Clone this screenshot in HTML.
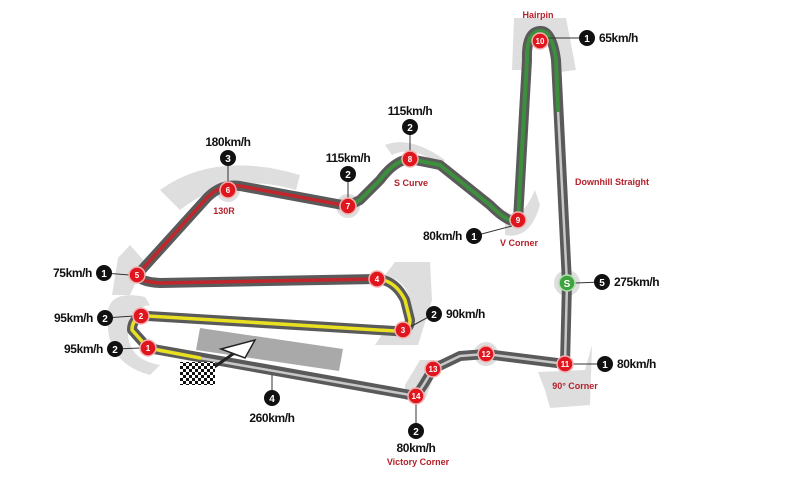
<!DOCTYPE html>
<html><head><meta charset="utf-8"><style>
html,body{margin:0;padding:0;background:#fff;}
svg{display:block;}
text{font-family:"Liberation Sans",sans-serif;font-weight:bold;}
.sp{font-size:12px;fill:#111;letter-spacing:-0.4px;}
.rl{font-size:9px;fill:#b3212a;}
.nw{font-size:8px;fill:#fff;text-anchor:middle;}
.bw{font-size:10px;fill:#fff;text-anchor:middle;}
</style></head><body>
<svg width="800" height="477" viewBox="0 0 800 477">
<g fill="#dedede">
<polygon points="514,18 566,18 576,70 560,72 552,36 528,36 522,70 512,70"/>
<path d="M160,190 Q215,150 300,175 L296,190 Q230,170 180,210 Z"/>
<path d="M118,258 L130,245 L145,262 L130,295 L112,295 Z"/>
<path d="M108,310 Q112,290 145,297 L150,305 Q128,308 128,335 Q130,360 160,365 L150,375 Q112,365 108,330 Z"/>
<path d="M395,262 L430,262 L432,300 L418,345 L375,345 L385,330 Q412,325 410,300 Q405,280 385,275 Z"/>
<path d="M385,145 Q410,135 445,160 L440,165 Q412,145 392,155 Z"/>
<path d="M505,210 Q520,225 535,190 L540,205 Q530,240 505,235 Z"/>
<path d="M538,372 L585,370 L592,345 L590,405 L550,408 L545,390 Z"/>
<path d="M405,385 L420,360 L440,360 L425,400 L405,400 Z"/>
<circle cx="567" cy="283" r="13"/>
<circle cx="486" cy="354" r="12"/>
<circle cx="348" cy="206" r="12"/>
<circle cx="228" cy="190" r="12"/>
</g>
<polygon points="200,328 343,349 339,371 196,350" fill="#a9a9a9"/>
<g fill="none" stroke-linecap="round" stroke-linejoin="round">
<path d="M148,348 L416,396 L424,384 L433,369 L460,356 L486,354 L565,364 L567,283 L556,60 Q552,30 540,31 Q526,32 527,60 L518,220 Q510,225 490,205 L440,165 L410,159 Q395,160 380,180 L360,200 L348,206 L240,186 Q220,183 205,200 L137,275 Q140,282 160,283 L377,279 Q395,280 405,300 L410,320 Q410,332 395,331 L148,316 Q132,316 132,330 L148,348" stroke="#5a5a5a" stroke-width="10"/>
<path d="M160,351 L416,396 L424,384 L433,369 L460,356 L486,354 L565,364 L567,283 L558,110" stroke="#c8c8c8" stroke-width="2.5"/>
<path d="M558,110 L556,60 Q552,30 540,31 Q526,32 527,60 L518,220 Q510,225 490,205 L440,165 L410,159 Q395,160 380,180 L360,200 L348,206" stroke="#3c8f3c" stroke-width="4"/>
<path d="M348,206 L240,186 Q220,183 205,200 L137,275 Q140,282 160,283 L377,279" stroke="#c0262c" stroke-width="3.5"/>
<path d="M377,279 Q395,280 405,300 L410,320 Q410,332 395,331 L148,316 Q132,316 132,330 L148,348 L200,358" stroke="#e8e020" stroke-width="3.5"/>
</g>
<line x1="210" y1="370" x2="240" y2="349" stroke="#222" stroke-width="3"/>
<polygon points="221,349 255,340 245,358" fill="#fff" stroke="#222" stroke-width="1.5"/>
<g>
<rect x="180" y="362" width="35" height="23" fill="#fff"/>
<pattern id="ck" width="6" height="6" patternUnits="userSpaceOnUse"><rect width="3" height="3" fill="#111"/><rect x="3" y="3" width="3" height="3" fill="#111"/></pattern>
<rect x="180" y="362" width="35" height="23" fill="url(#ck)"/>
</g>
<g stroke="#333" stroke-width="1">
<line x1="228" y1="158" x2="228" y2="190"/><line x1="348" y1="174" x2="348" y2="206"/>
<line x1="410" y1="127" x2="410" y2="159"/><line x1="474" y1="236" x2="512" y2="226"/>
<line x1="587" y1="38" x2="548" y2="38"/><line x1="602" y1="282" x2="575" y2="283"/>
<line x1="605" y1="364" x2="573" y2="364"/><line x1="434" y1="314" x2="410" y2="327"/>
<line x1="104" y1="273" x2="130" y2="275"/><line x1="105" y1="318" x2="134" y2="316"/>
<line x1="115" y1="349" x2="141" y2="348"/><line x1="272" y1="398" x2="272" y2="375"/>
<line x1="416" y1="431" x2="416" y2="396"/>
</g>
<g fill="#e0161e" stroke="#f2b0b0" stroke-width="1.5">
<circle cx="148" cy="348" r="8"/><circle cx="141" cy="316" r="8"/><circle cx="403" cy="330" r="8"/>
<circle cx="377" cy="279" r="8"/><circle cx="137" cy="275" r="8"/><circle cx="228" cy="190" r="8"/>
<circle cx="348" cy="206" r="8"/><circle cx="410" cy="159" r="8"/><circle cx="518" cy="220" r="8"/>
<circle cx="540" cy="41" r="8"/><circle cx="565" cy="364" r="8"/><circle cx="486" cy="354" r="8"/>
<circle cx="433" cy="369" r="8"/><circle cx="416" cy="396" r="8"/>
</g>
<circle cx="567" cy="283" r="8" fill="#3ea33e" stroke="#b0e0b0" stroke-width="1.5"/>
<g class="nw">
<text x="148" y="351">1</text><text x="141" y="319">2</text><text x="403" y="333">3</text>
<text x="377" y="282">4</text><text x="137" y="278">5</text><text x="228" y="193">6</text>
<text x="348" y="209">7</text><text x="410" y="162">8</text><text x="518" y="223">9</text>
<text x="540" y="44">10</text><text x="565" y="367">11</text><text x="486" y="357">12</text>
<text x="433" y="372">13</text><text x="416" y="399">14</text><text x="567" y="287" font-size="10">S</text>
</g>
<g fill="#111">
<circle cx="228" cy="158" r="8"/><circle cx="348" cy="174" r="8"/><circle cx="410" cy="127" r="8"/>
<circle cx="474" cy="236" r="8"/><circle cx="587" cy="38" r="8"/><circle cx="602" cy="282" r="8"/>
<circle cx="605" cy="364" r="8"/><circle cx="434" cy="314" r="8"/><circle cx="104" cy="273" r="8"/>
<circle cx="105" cy="318" r="8"/><circle cx="115" cy="349" r="8"/><circle cx="272" cy="398" r="8"/>
<circle cx="416" cy="431" r="8"/>
</g>
<g class="bw">
<text x="228" y="162">3</text><text x="348" y="178">2</text><text x="410" y="131">2</text>
<text x="474" y="240">1</text><text x="587" y="42">1</text><text x="602" y="286">5</text>
<text x="605" y="368">1</text><text x="434" y="318">2</text><text x="104" y="277">1</text>
<text x="105" y="322">2</text><text x="115" y="353">2</text><text x="272" y="402">4</text>
<text x="416" y="435">2</text>
</g>
<g class="sp">
<text x="228" y="146" text-anchor="middle">180km/h</text>
<text x="348" y="162" text-anchor="middle">115km/h</text>
<text x="410" y="115" text-anchor="middle">115km/h</text>
<text x="462" y="240" text-anchor="end">80km/h</text>
<text x="599" y="42">65km/h</text>
<text x="614" y="286">275km/h</text>
<text x="617" y="368">80km/h</text>
<text x="446" y="318">90km/h</text>
<text x="92" y="277" text-anchor="end">75km/h</text>
<text x="93" y="322" text-anchor="end">95km/h</text>
<text x="103" y="353" text-anchor="end">95km/h</text>
<text x="272" y="422" text-anchor="middle">260km/h</text>
<text x="416" y="452" text-anchor="middle">80km/h</text>
</g>
<g class="rl" text-anchor="middle">
<text x="538" y="18">Hairpin</text>
<text x="224" y="214">130R</text>
<text x="411" y="186">S Curve</text>
<text x="519" y="246">V Corner</text>
<text x="612" y="185">Downhill Straight</text>
<text x="575" y="389">90° Corner</text>
<text x="418" y="465">Victory Corner</text>
</g>
</svg>
</body></html>
